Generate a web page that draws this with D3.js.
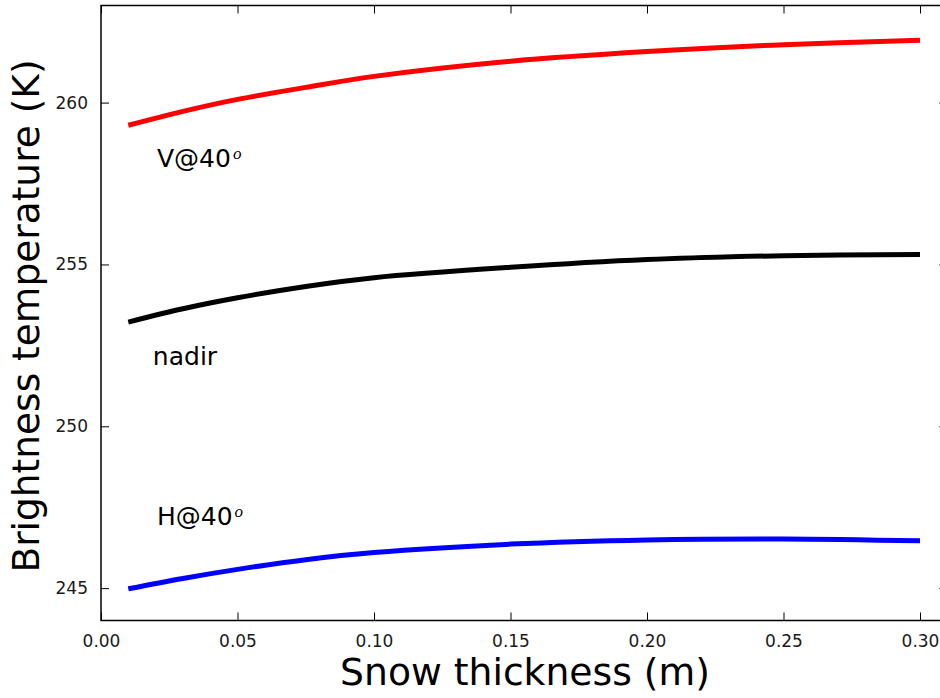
<!DOCTYPE html>
<html>
<head>
<meta charset="utf-8">
<script src="https://cdn.jsdelivr.net/npm/d3@7"></script>
<style>
  html, body { margin: 0; padding: 0; background: #fff; }
  svg { display: block; font-family: "DejaVu Sans", sans-serif; }
</style>
</head>
<body>
<svg id="chart" width="940" height="698"></svg>
<script>
// Snow thickness (m) at which brightness temperatures were computed
const thickness = [0.01, 0.03, 0.05, 0.075, 0.10, 0.15, 0.20, 0.25, 0.30];

// Brightness temperature (K) for each observation geometry
const tbV40  = [259.30, 259.73, 260.10, 260.47, 260.81, 261.28, 261.58, 261.79, 261.93];
const tbNadir = [253.22, 253.63, 253.97, 254.32, 254.59, 254.91, 255.15, 255.27, 255.31];
const tbH40  = [244.98, 245.30, 245.58, 245.88, 246.10, 246.36, 246.49, 246.52, 246.46];

const xTicks = [0.00, 0.05, 0.10, 0.15, 0.20, 0.25, 0.30];
const yTicks = [245, 250, 255, 260];

const seriesNames  = ["V@40", "nadir", "H@40"];
const seriesColors = ["#ff0000", "#000000", "#0000ff"];
const seriesValues = [tbV40, tbNadir, tbH40];

const svg = d3.select("#chart");
const plotL = 101, plotT = 5.5, plotR = 947.3, plotB = 620.5;

const x = d3.scaleLinear().domain([0, 0.31]).range([plotL, plotR]);
const y = d3.scaleLinear().domain([244, 263]).range([plotB, plotT]);

// curves
const line = d3.line()
  .x(d => x(d[0]))
  .y(d => y(d[1]))
  .curve(d3.curveCatmullRom.alpha(0.5));

seriesValues.forEach((vals, i) => {
  svg.append("path")
    .datum(thickness.map((t, j) => [t, vals[j]]))
    .attr("d", line)
    .attr("fill", "none")
    .attr("stroke", seriesColors[i])
    .attr("stroke-width", 5);
});

// axes: inward ticks on all four sides
const tickLen = 8;
const fmtX = d3.format(".2f");

const xBottom = d3.axisBottom(x).tickValues(xTicks).tickSize(-tickLen).tickPadding(14).tickFormat(fmtX);
const xTop = d3.axisTop(x).tickValues(xTicks).tickSize(-tickLen).tickFormat("");
const yLeft = d3.axisLeft(y).tickValues(yTicks).tickSize(-tickLen).tickPadding(13).tickFormat(d3.format("d"));
const yRight = d3.axisRight(y).tickValues(yTicks).tickSize(-tickLen).tickFormat("");

function styleAxis(g) {
  g.select(".domain").remove();
  g.selectAll(".tick line").attr("stroke", "#000").attr("stroke-width", 1);
  g.selectAll(".tick text")
    .attr("fill", "#1a1a1a")
    .style("font-family", "DejaVu Sans, sans-serif")
    .style("font-size", "17px");
}

svg.append("g").attr("transform", `translate(0,${plotB})`).call(xBottom).call(styleAxis);
svg.append("g").attr("transform", `translate(0,${plotT})`).call(xTop).call(styleAxis);
svg.append("g").attr("transform", `translate(${plotL},0)`).call(yLeft).call(styleAxis);
svg.append("g").attr("transform", `translate(${plotR},0)`).call(yRight).call(styleAxis);

// frame
svg.append("rect")
  .attr("x", plotL).attr("y", plotT)
  .attr("width", plotR - plotL).attr("height", plotB - plotT)
  .attr("fill", "none").attr("stroke", "#000").attr("stroke-width", 1.5);

// axis titles
svg.append("text")
  .attr("x", 525).attr("y", 685)
  .attr("text-anchor", "middle")
  .style("font-size", "37.7px")
  .text("Snow thickness (m)");

svg.append("text")
  .attr("transform", `translate(39,316) rotate(-90)`)
  .attr("text-anchor", "middle")
  .style("font-size", "37.5px")
  .text("Brightness temperature (K)");

// curve labels
const labelPos = [
  { x: 0.0205, t: 258.0, sup: true },
  { x: 0.0190, t: 251.9, sup: false },
  { x: 0.0205, t: 246.95, sup: true }
];
labelPos.forEach((p, i) => {
  const txt = svg.append("text")
    .attr("x", x(p.x)).attr("y", y(p.t))
    .style("font-size", "25px")
    .attr("fill", "#000");
  txt.append("tspan").text(seriesNames[i]);
  if (p.sup) {
    txt.append("tspan")
      .attr("dy", -8)
      .attr("dx", 2)
      .style("font-family", "Liberation Serif, serif")
      .style("font-style", "italic")
      .style("font-size", "17px")
      .text("o");
  }
});
</script>
</body>
</html>
